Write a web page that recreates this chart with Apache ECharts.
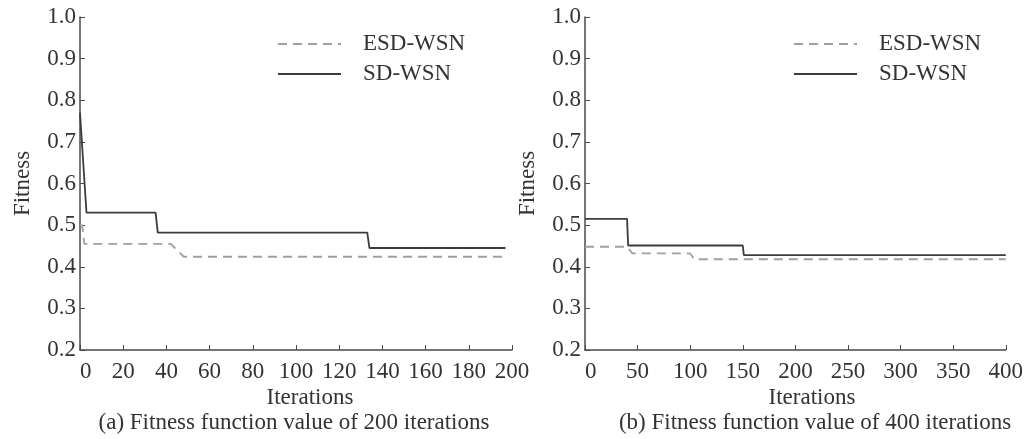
<!DOCTYPE html>
<html>
<head>
<meta charset="utf-8">
<script src="https://cdn.jsdelivr.net/npm/echarts@6/dist/echarts.min.js"></script>
<style>
html,body{margin:0;padding:0;background:#fff;}
#chart{width:1026px;height:439px;}
</style>
</head>
<body>
<div id="chart"></div>
<script>
// (a) 200 iterations
var iterSdA=[0,3,35,36,133,134,197];
var sdA=[0.77,0.53,0.53,0.482,0.482,0.445,0.445];
var iterEsdA=[0,1,2,42,48,197];
var esdA=[0.5,0.5,0.455,0.455,0.424,0.424];
// (b) 400 iterations
var iterSdB=[0,40,41,150,151,400];
var sdB=[0.515,0.515,0.451,0.451,0.428,0.428];
var iterEsdB=[0,40,45,100,104,400];
var esdB=[0.448,0.448,0.432,0.432,0.418,0.418];

var yTicks=[0.2,0.3,0.4,0.5,0.6,0.7,0.8,0.9,1.0];
var names=['ESD-WSN','SD-WSN'];
var captions=['(a) Fitness function value of 200 iterations','(b) Fitness function value of 400 iterations'];

function pairs(xs,ys){
	var out=[];
	for(var i=0;i<xs.length;i++){out.push([xs[i],ys[i]]);}
	return out;
}

var font='"Liberation Serif","Times New Roman",serif';
var txt='#333';
var axisCol='#4a4a4a';

function xAx(idx,max,step){
	return {
		type:'value',gridIndex:idx,min:0,max:max,interval:step,
		axisLine:{show:true,lineStyle:{color:axisCol,width:1.5}},
		axisTick:{show:true,inside:true,length:5,lineStyle:{color:axisCol}},
		axisLabel:{color:txt,fontFamily:font,fontSize:23,margin:10,alignMinLabel:'left'},
		splitLine:{show:false}
	};
}
function yAx(idx){
	return {
		type:'value',gridIndex:idx,min:yTicks[0],max:yTicks[yTicks.length-1],interval:0.1,
		name:'Fitness',nameLocation:'middle',nameGap:46,
		nameTextStyle:{color:txt,fontFamily:font,fontSize:23},
		axisLine:{show:true,lineStyle:{color:axisCol,width:1.5}},
		axisTick:{show:true,inside:true,length:5,lineStyle:{color:axisCol}},
		axisLabel:{color:txt,fontFamily:font,fontSize:23,margin:4,formatter:function(v){return v.toFixed(1);}},
		splitLine:{show:false}
	};
}
function esd(idx,data){
	return {name:names[0],type:'line',xAxisIndex:idx,yAxisIndex:idx,data:data,symbol:'none',
		lineStyle:{color:'#a0a0a0',width:1.8,type:[9,6]},itemStyle:{color:'#a0a0a0'},animation:false};
}
function sd(idx,data){
	return {name:names[1],type:'line',xAxisIndex:idx,yAxisIndex:idx,data:data,symbol:'none',
		lineStyle:{color:'#3c3c3c',width:1.8},itemStyle:{color:'#3c3c3c'},animation:false};
}
function leg(left){
	return {orient:'vertical',left:left,top:27,itemWidth:63,itemHeight:14,itemGap:6,
		itemStyle:{opacity:0},
		data:names,textStyle:{color:txt,fontFamily:font,fontSize:23,lineHeight:24,padding:[0,0,0,17]}};
}
function label(x,y,s){
	return {type:'text',x:x,y:y,style:{text:s,fill:txt,font:'23px '+font,align:'center',verticalAlign:'middle'}};
}

var dom=echarts.init(document.getElementById('chart'));
var option={
	backgroundColor:'#fff',
	animation:false,
	grid:[
		{left:80,right:514,top:17,bottom:89},
		{left:585,right:20,top:17,bottom:89}
	],
	xAxis:[xAx(0,200,20),xAx(1,400,50)],
	yAxis:[yAx(0),yAx(1)],
	legend:[leg(272),leg(788)],
	series:[
		esd(0,pairs(iterEsdA,esdA)),
		sd(0,pairs(iterSdA,sdA)),
		esd(1,pairs(iterEsdB,esdB)),
		sd(1,pairs(iterSdB,sdB))
	],
	graphic:[
		label(310,398,'Iterations'),
		label(294,423,captions[0]),
		label(812,398,'Iterations'),
		label(815,423,captions[1])
	]
};
dom.setOption(option);
</script>
</body>
</html>
